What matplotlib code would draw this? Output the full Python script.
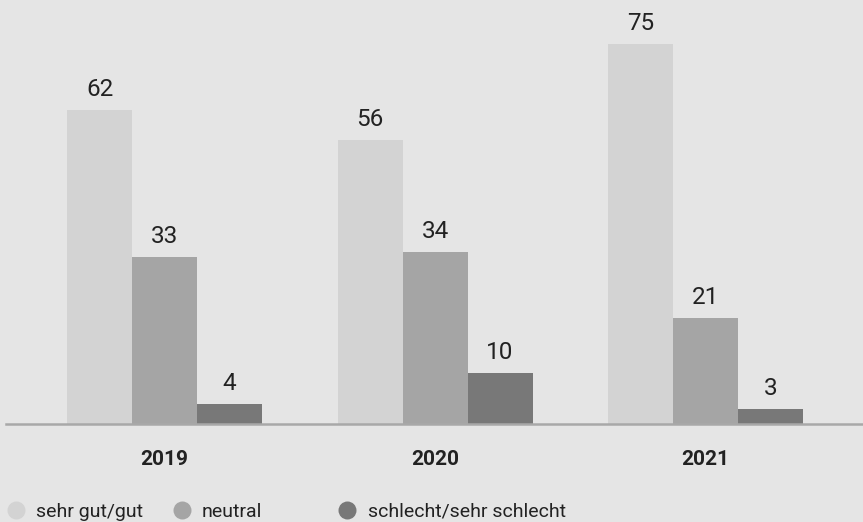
import matplotlib
matplotlib.use("Agg")
import matplotlib.pyplot as plt
from matplotlib.lines import Line2D
import numpy as np

years = ["2019", "2020", "2021"]
series_names = ["sehr gut/gut", "neutral", "schlecht/sehr schlecht"]
sehr_gut_gut = [62, 56, 75]
neutral = [33, 34, 21]
schlecht = [4, 10, 3]

colors = ["#d3d3d3", "#a5a5a5", "#787878"]
bg = "#e5e5e5"
text_color = "#222222"

plt.rcParams["font.family"] = ["Roboto", "DejaVu Sans"]

W, H, DPI = 863, 522, 100
fig = plt.figure(figsize=(W / DPI, H / DPI), dpi=DPI, facecolor=bg)

# axes placed in pixel units: baseline at y=424 px from top, spanning to the top edge
left_px, right_px = 6, 863
base_px = 424
ax = fig.add_axes([left_px / W, (H - base_px) / H, (right_px - left_px) / W, base_px / H])
ax.set_facecolor(bg)

px_per_group = 270.5
px_per_unit = 5.065
xmin = -(164.5 - left_px) / px_per_group
ax.set_xlim(xmin, xmin + (right_px - left_px) / px_per_group)
ax.set_ylim(0, base_px / px_per_unit)

bar_w = 65 / px_per_group
x = np.arange(len(years))
for i, (vals, col) in enumerate(zip([sehr_gut_gut, neutral, schlecht], colors)):
    bars = ax.bar(x + (i - 1) * bar_w, vals, width=bar_w, color=col, zorder=2)
    for b, v in zip(bars, vals):
        ax.annotate(str(v), (b.get_x() + b.get_width() / 2, v),
                    xytext=(0, 14 * 72 / DPI), textcoords="offset points",
                    ha="center", va="baseline", fontsize=17.5, color=text_color)

for s in ["top", "right", "left"]:
    ax.spines[s].set_visible(False)
ax.spines["bottom"].set_color("#a8a8a8")
ax.spines["bottom"].set_linewidth(2.5 * 72 / DPI)
ax.spines["bottom"].set_zorder(3)
ax.set_yticks([])
ax.set_xticks(x)
ax.set_xticklabels(years, fontsize=15, fontweight="bold", color=text_color)
ax.tick_params(axis="x", length=0, pad=19)

# legend along the bottom edge
circle_x = [16, 182, 347]
label_x = [36, 202, 368]
for cx, lx, col, name in zip(circle_x, label_x, colors, series_names):
    fig.add_artist(Line2D([cx / W], [(H - 510) / H], marker="o", markersize=18 * 72 / DPI,
                          color=col, markeredgewidth=0, linestyle="none",
                          transform=fig.transFigure))
    fig.text(lx / W, (H - 517) / H, name, fontsize=14, color=text_color,
             ha="left", va="baseline")

fig.savefig("out.png", dpi=DPI, facecolor=bg)
